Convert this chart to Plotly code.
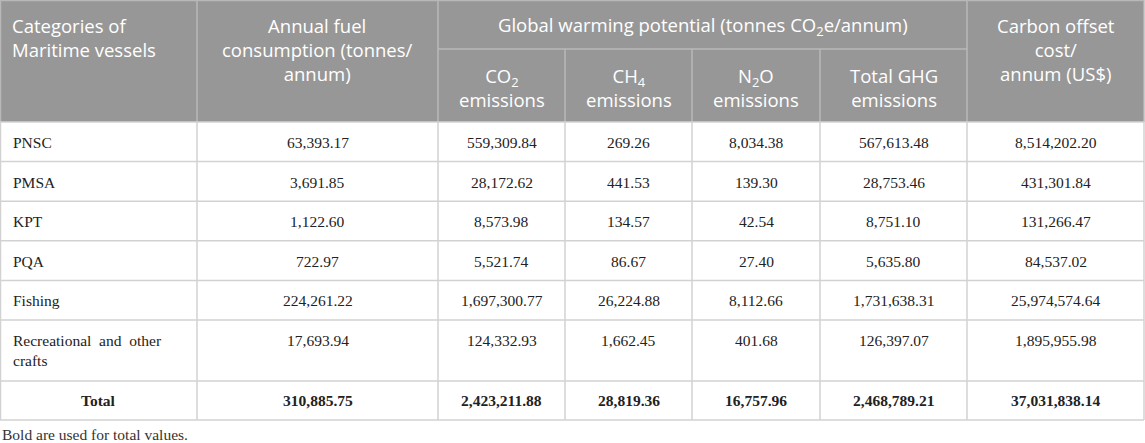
import plotly.graph_objects as go

# ---------------- data ----------------
categories = ["PNSC", "PMSA", "KPT", "PQA", "Fishing", "Recreational and other crafts"]
fuel = [63393.17, 3691.85, 1122.60, 722.97, 224261.22, 17693.94]
co2 = [559309.84, 28172.62, 8573.98, 5521.74, 1697300.77, 124332.93]
ch4 = [269.26, 441.53, 134.57, 86.67, 26224.88, 1662.45]
n2o = [8034.38, 139.30, 42.54, 27.40, 8112.66, 401.68]
total_ghg = [567613.48, 28753.46, 8751.10, 5635.80, 1731638.31, 126397.07]
offset_cost = [8514202.20, 431301.84, 131266.47, 84537.02, 25974574.64, 1895955.98]
total_label = "Total"
totals = [310885.75, 2423211.88, 28819.36, 16757.96, 2468789.21, 37031838.14]

header_col0 = ["Categories of", "Maritime vessels"]
header_col1 = ["Annual fuel", "consumption (tonnes/", "annum)"]
header_group = "Global warming potential (tonnes CO<sub>2</sub>e/annum)"
sub_headers = [["CO<sub>2</sub>", "emissions"], ["CH<sub>4</sub>", "emissions"],
               ["N<sub>2</sub>O", "emissions"], ["Total GHG", "emissions"]]
header_col6 = ["Carbon offset", "cost/", "annum (US$)"]
footnote = "Bold are used for total values."

# ---------------- geometry ----------------
W, H = 1145, 443
col_edges = [0, 197, 438, 565, 692, 820, 967, 1144]
row_edges = [122, 161.6, 201.2, 240.8, 280.4, 320, 381, 420]
head_top, group_line, head_bot = 0, 49, 122

HEAD_BG = "#979797"
HEAD_LINE = "#b8b8b8"
GRID = "#d2d2d2"
TXT = "#222222"
SANS = "Open Sans"
SERIF = "Liberation Serif"
HS = 18.5
BS = 15.5

fig = go.Figure()
shapes = []
annotations = []


def line(x0, y0, x1, y1, color, width=1.5):
    shapes.append(dict(type="line", xref="x", yref="y", x0=x0, y0=y0, x1=x1, y1=y1,
                       line=dict(color=color, width=width), layer="above"))


def text(x, y, s, size, family, color, xanchor="center", align="center", bold=False):
    if bold:
        s = "<b>" + s + "</b>"
    annotations.append(dict(x=x, y=y, xref="x", yref="y", text=s, showarrow=False,
                            xanchor=xanchor, yanchor="middle", align=align,
                            font=dict(size=size, family=family, color=color)))


# header background
shapes.append(dict(type="rect", xref="x", yref="y", x0=0, y0=head_top, x1=col_edges[-1], y1=head_bot,
                   fillcolor=HEAD_BG, line=dict(width=0), layer="below"))

# header lines
line(0, 0.5, col_edges[-1], 0.5, HEAD_LINE)
for xe in [197, 438, 967]:
    line(xe, 0, xe, head_bot, HEAD_LINE)
for xe in [565, 692, 820]:
    line(xe, group_line, xe, head_bot, HEAD_LINE)
line(438, group_line, 967, group_line, HEAD_LINE)
line(0.5, 0, 0.5, head_bot, HEAD_LINE)
line(col_edges[-1], 0, col_edges[-1], head_bot, HEAD_LINE)

# body grid
for ye in row_edges:
    line(0, ye, col_edges[-1], ye, GRID)
for xe in col_edges:
    xx = 0.5 if xe == 0 else xe
    line(xx, row_edges[0], xx, row_edges[-1], GRID)

# header texts
centers = [(col_edges[i] + col_edges[i + 1]) / 2 for i in range(len(col_edges) - 1)]
text(10, 37, "<br>".join(header_col0), HS, SANS, "white", xanchor="left", align="left")
text(centers[1], 49.5, "<br>".join(header_col1), HS, SANS, "white")
text((438 + 967) / 2, 25.5, header_group, HS, SANS, "white")
for j, lines in enumerate(sub_headers):
    text(centers[2 + j], 87.5, "<br>".join(lines), HS, SANS, "white")
text(centers[6], 49, "<br>".join(header_col6), HS, SANS, "white")

# body texts
cols = [fuel, co2, ch4, n2o, total_ghg, offset_cost]
for i, cat in enumerate(categories):
    top = row_edges[i]
    bot = row_edges[i + 1]
    y_line = top + 20.5
    if bot - top > 45:
        # wrap long label in two lines
        words = cat.split(" ")
        label = "&nbsp;&nbsp;".join(words[:3]) + "<br>" + " ".join(words[3:])
        text(11, y_line + 9.5, label, BS, SERIF, TXT, xanchor="left", align="left")
    else:
        text(11, y_line, cat, BS, SERIF, TXT, xanchor="left", align="left")
    for j, arr in enumerate(cols):
        text(centers[1 + j], y_line, f"{arr[i]:,.2f}", BS, SERIF, TXT)

ty = (row_edges[-2] + row_edges[-1]) / 2
text(centers[0], ty, total_label, BS, SERIF, TXT, bold=True)
for j, v in enumerate(totals):
    text(centers[1 + j], ty, f"{v:,.2f}", BS, SERIF, TXT, bold=True)

text(0, 434.5, footnote, BS, SERIF, "#333333", xanchor="left", align="left")

fig.update_layout(
    width=W, height=H,
    margin=dict(l=0, r=0, t=0, b=0),
    paper_bgcolor="white", plot_bgcolor="white",
    xaxis=dict(range=[0, W], visible=False, fixedrange=True),
    yaxis=dict(range=[H, 0], visible=False, fixedrange=True),
    shapes=shapes, annotations=annotations, showlegend=False,
)
fig.write_html("out.html", config={"displayModeBar": False},
               post_script="document.body.style.margin='0';document.body.style.overflow='hidden';")
